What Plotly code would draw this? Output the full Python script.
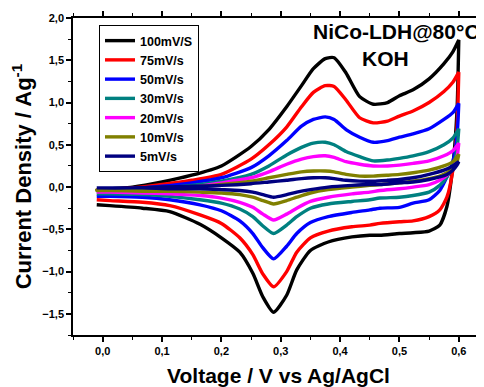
import plotly.graph_objects as go

# Voltage grids (V vs Ag/AgCl)
v_anodic = [-0.01, 0.05, 0.1, 0.15, 0.2, 0.25, 0.28, 0.31, 0.335, 0.355, 0.375, 0.39,
            0.41, 0.433, 0.456, 0.48, 0.5, 0.523, 0.55, 0.575, 0.59, 0.6]
v_cathodic = [0.6, 0.597, 0.59, 0.58, 0.568, 0.55, 0.523, 0.5, 0.467, 0.45, 0.42, 0.38,
              0.35, 0.327, 0.31, 0.288, 0.27, 0.253, 0.231, 0.2, 0.164, 0.113, 0.067, 0.012, -0.01]

labels = ["100mV/S", "75mV/s", "50mV/s", "30mV/s", "20mV/s", "10mV/s", "5mV/s"]
colors = ["#000000", "#FF0000", "#0000FF", "#008080", "#FF00FF", "#808000", "#000080"]

i_100_an = [-0.03, 0.0, 0.06, 0.14, 0.25, 0.48, 0.68, 0.95, 1.2, 1.4, 1.52, 1.53, 1.35, 1.07, 0.98, 1.0, 1.08, 1.15, 1.28, 1.46, 1.6, 1.74]
i_100_ca = [1.74, 0.9, 0.25, -0.23, -0.45, -0.52, -0.54, -0.55, -0.57, -0.57, -0.59, -0.65, -0.75, -0.98, -1.28, -1.48, -1.3, -1.02, -0.77, -0.6, -0.44, -0.29, -0.25, -0.22, -0.21]
i_75_an = [-0.03, -0.01, 0.03, 0.08, 0.15, 0.33, 0.5, 0.71, 0.95, 1.12, 1.2, 1.19, 1.03, 0.82, 0.76, 0.78, 0.84, 0.9, 1.0, 1.13, 1.24, 1.36]
i_75_ca = [1.36, 0.7, 0.2, -0.12, -0.27, -0.35, -0.4, -0.41, -0.43, -0.45, -0.47, -0.52, -0.6, -0.77, -1.0, -1.18, -1.03, -0.8, -0.6, -0.43, -0.33, -0.22, -0.18, -0.16, -0.15]
i_50_an = [-0.04, -0.02, 0.01, 0.05, 0.11, 0.23, 0.37, 0.55, 0.72, 0.8, 0.83, 0.8, 0.68, 0.59, 0.53, 0.55, 0.59, 0.63, 0.69, 0.8, 0.88, 0.99]
i_50_ca = [0.99, 0.6, 0.3, 0.12, -0.04, -0.15, -0.19, -0.24, -0.25, -0.27, -0.3, -0.35, -0.42, -0.55, -0.7, -0.85, -0.72, -0.55, -0.4, -0.28, -0.21, -0.15, -0.12, -0.11, -0.11]
i_30_an = [-0.05, -0.03, -0.01, 0.02, 0.07, 0.15, 0.25, 0.38, 0.47, 0.52, 0.53, 0.5, 0.42, 0.36, 0.31, 0.32, 0.34, 0.37, 0.42, 0.5, 0.58, 0.69]
i_30_ca = [0.69, 0.45, 0.25, 0.12, 0.02, -0.06, -0.1, -0.12, -0.13, -0.15, -0.17, -0.2, -0.25, -0.35, -0.45, -0.55, -0.46, -0.35, -0.26, -0.19, -0.15, -0.11, -0.09, -0.08, -0.08]
i_20_an = [-0.05, -0.04, -0.02, 0.0, 0.05, 0.11, 0.18, 0.27, 0.33, 0.36, 0.37, 0.35, 0.3, 0.27, 0.25, 0.25, 0.26, 0.28, 0.31, 0.37, 0.43, 0.52]
i_20_ca = [0.52, 0.35, 0.22, 0.14, 0.08, 0.03, 0.0, -0.02, -0.04, -0.06, -0.08, -0.12, -0.17, -0.25, -0.32, -0.39, -0.32, -0.24, -0.18, -0.13, -0.1, -0.08, -0.07, -0.06, -0.06]
i_10_an = [-0.04, -0.03, -0.02, 0.0, 0.03, 0.07, 0.11, 0.15, 0.18, 0.19, 0.19, 0.18, 0.15, 0.13, 0.13, 0.14, 0.15, 0.17, 0.2, 0.25, 0.3, 0.39]
i_10_ca = [0.39, 0.3, 0.22, 0.17, 0.13, 0.1, 0.07, 0.05, 0.03, 0.02, 0.0, -0.03, -0.07, -0.12, -0.16, -0.2, -0.16, -0.12, -0.09, -0.07, -0.06, -0.05, -0.05, -0.04, -0.04]
i_5_an = [-0.01, -0.01, 0.0, 0.01, 0.02, 0.04, 0.06, 0.08, 0.1, 0.11, 0.11, 0.1, 0.08, 0.07, 0.07, 0.08, 0.09, 0.11, 0.15, 0.2, 0.25, 0.3]
i_5_ca = [0.3, 0.26, 0.2, 0.15, 0.12, 0.09, 0.06, 0.05, 0.03, 0.03, 0.02, 0.0, -0.03, -0.06, -0.09, -0.12, -0.09, -0.06, -0.04, -0.03, -0.02, -0.02, -0.01, -0.01, -0.01]

anodic = [i_100_an, i_75_an, i_50_an, i_30_an, i_20_an, i_10_an, i_5_an]
cathodic = [i_100_ca, i_75_ca, i_50_ca, i_30_ca, i_20_ca, i_10_ca, i_5_ca]

x_ticks = [0.0, 0.1, 0.2, 0.3, 0.4, 0.5, 0.6]
y_ticks = [-1.5, -1.0, -0.5, 0.0, 0.5, 1.0, 1.5, 2.0]

FONT = "Liberation Sans, Arial, sans-serif"

# page body adds an 8px offset, so the figure is laid out 8px smaller
OFF = 8
W, H = 484 - OFF, 387 - OFF
L, R, T, B = 73 - OFF, 0, 18 - OFF, 387 - 335
pw, ph = W - L - R, H - T - B


def px_x(p):
    return (p - OFF - L) / pw


def px_y(p):
    return 1 - (p - OFF - T) / ph


fig = go.Figure()
for lab, col, ia, ic in zip(labels, colors, anodic, cathodic):
    fig.add_trace(go.Scatter(
        x=v_anodic + v_cathodic, y=ia + ic, mode="lines", name=lab,
        line=dict(color=col, width=3.4, shape="spline", smoothing=0.6),
    ))

fig.add_annotation(text="NiCo-LDH@80°C", x=px_x(396), y=px_y(32), xref="x domain", yref="y domain",
                   xanchor="center", yanchor="middle",
                   showarrow=False, font=dict(family=FONT, size=21, color="black", weight="bold"))
fig.add_annotation(text="KOH", x=px_x(385), y=px_y(59), xref="x domain", yref="y domain",
                   xanchor="center", yanchor="middle",
                   showarrow=False, font=dict(family=FONT, size=21, color="black", weight="bold"))

fig.update_layout(
    width=W, height=H,
    margin=dict(l=L, r=R, t=T, b=B, autoexpand=False),
    plot_bgcolor="white", paper_bgcolor="white",
    separators=", ",
    font=dict(family=FONT, color="black"),
    showlegend=True,
    legend=dict(
        x=px_x(99), y=px_y(25), xanchor="left", yanchor="top",
        bgcolor="white", bordercolor="black", borderwidth=1,
        font=dict(family=FONT, size=12.5, color="black", weight="bold"),
        tracegroupgap=0, itemwidth=30,
    ),
    xaxis=dict(
        range=[-0.05, 0.6425], tickvals=x_ticks, tickformat=".1f", automargin=False,
        showline=True, linecolor="black", linewidth=1.5, mirror="ticks",
        ticks="outside", ticklen=5, tickwidth=1.5, tickcolor="black",
        minor=dict(dtick=0.05, tick0=0.05, ticks="outside", ticklen=3, tickwidth=1.2, tickcolor="black"),
        showgrid=False, zeroline=False,
        tickfont=dict(family=FONT, size=11, color="black", weight="bold"),
        title=dict(text="Voltage / V vs Ag/AgCl", standoff=14,
                   font=dict(family=FONT, size=21, color="black", weight="bold")),
    ),
    yaxis=dict(
        range=[-1.75, 2.0], tickvals=y_ticks, tickformat=".1f", automargin=False,
        showline=True, linecolor="black", linewidth=1.5,
        ticks="outside", ticklen=5, tickwidth=1.5, tickcolor="black",
        minor=dict(dtick=0.25, tick0=0, ticks="outside", ticklen=3, tickwidth=1.2, tickcolor="black"),
        showgrid=False, zeroline=False,
        tickfont=dict(family=FONT, size=11, color="black", weight="bold"),
        title=dict(text="Current Density / Ag<sup>-1</sup>", standoff=11,
                   font=dict(family=FONT, size=22, color="black", weight="bold")),
    ),
)

fig.write_html("out.html")
